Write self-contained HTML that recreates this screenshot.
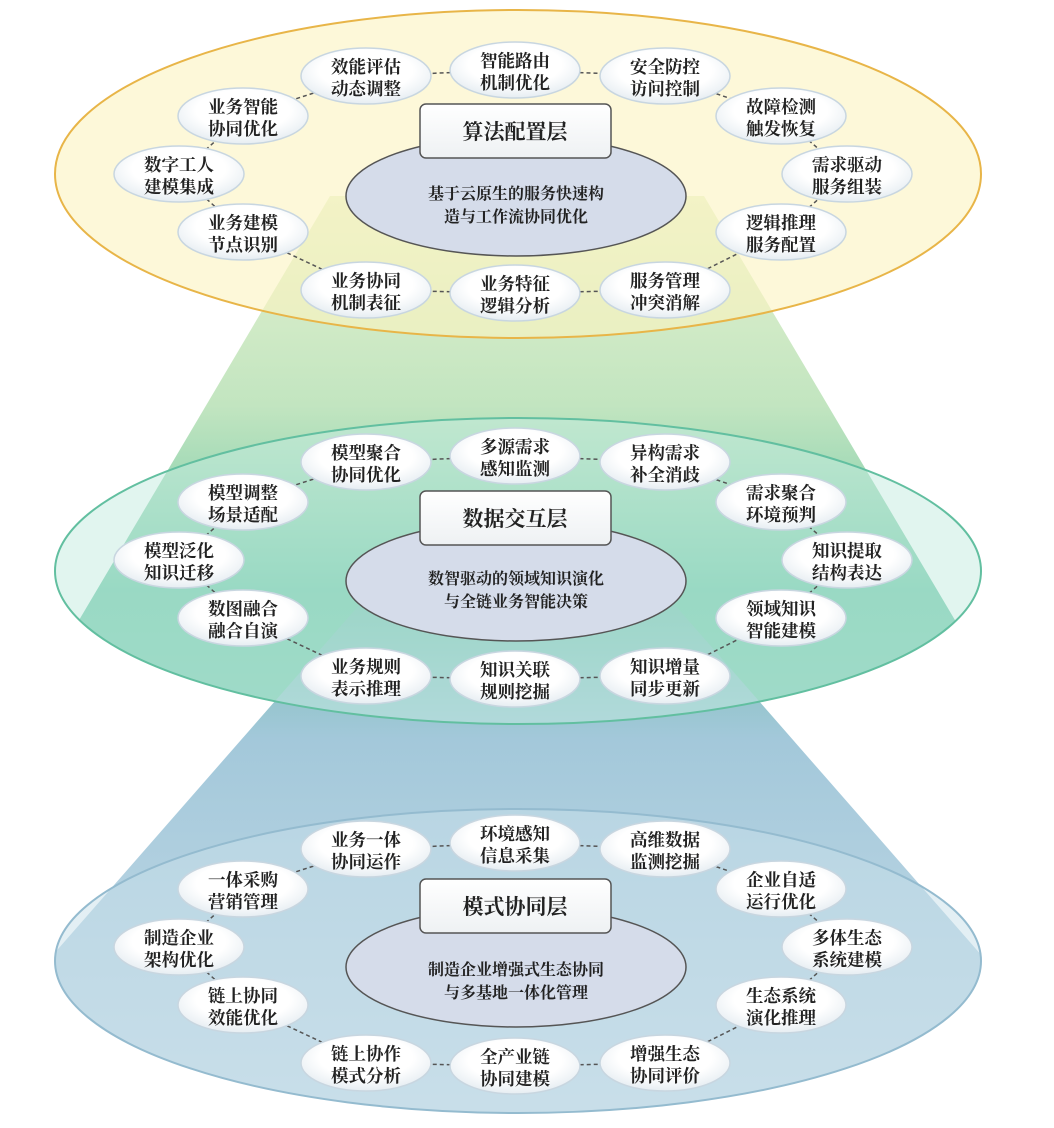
<!DOCTYPE html>
<html><head><meta charset="utf-8"><style>
html,body{margin:0;padding:0;background:#fff;}
svg{display:block;}
text{font-family:"Liberation Serif","Noto Serif CJK SC",serif;font-weight:700;fill:#222;}
.n text{font-size:17.5px;}
</style></head><body>
<svg width="1054" height="1128" viewBox="0 0 1054 1128" xmlns="http://www.w3.org/2000/svg">
<defs>
<linearGradient id="c1" gradientUnits="userSpaceOnUse" x1="0" y1="196" x2="0" y2="720">
<stop offset="0" stop-color="#e6f2cf"/><stop offset="0.4" stop-color="#c2e5c0"/><stop offset="0.75" stop-color="#6fc7a8"/><stop offset="1" stop-color="#7cc9b2"/></linearGradient>
<linearGradient id="c2" gradientUnits="userSpaceOnUse" x1="0" y1="580" x2="0" y2="1110">
<stop offset="0" stop-color="#6ebfa8"/><stop offset="0.3" stop-color="#a3c8da"/><stop offset="1" stop-color="#c9dde9"/></linearGradient>
<radialGradient id="nd" cx="0.5" cy="0.4" r="0.6"><stop offset="0.6" stop-color="#fff"/><stop offset="1" stop-color="#e6edf2"/></radialGradient>
<linearGradient id="bx" x1="0" y1="0" x2="0" y2="1"><stop offset="0" stop-color="#fff"/><stop offset="1" stop-color="#eef1f3"/></linearGradient>
<clipPath id="k1"><rect x="0" y="0" width="1054" height="571"/><ellipse cx="518" cy="571" rx="463" ry="153"/></clipPath>
<clipPath id="k2"><rect x="60" y="580" width="916" height="381"/><ellipse cx="518" cy="961" rx="463" ry="152"/></clipPath>
<g id="ring" stroke="#555" stroke-width="1.5" stroke-dasharray="4,3" fill="none">
<polyline points="243,116 366,76 515,70 665,76 781,116 847,174 781,232 665,290 515,293 366,290 243,232 179,174 243,116"/>
</g>
</defs>
<!-- cones -->
<polygon points="330,196 704,196 1020,730 14,730" fill="url(#c1)" clip-path="url(#k1)"/>
<polygon points="381,580 653,580 1130,1125 -96,1125" fill="url(#c2)" clip-path="url(#k2)"/>
<!-- layer ellipses -->
<ellipse cx="518" cy="174" rx="463" ry="164" fill="#fcf3c0" fill-opacity="0.6" stroke="#e8b548" stroke-width="2"/>
<ellipse cx="518" cy="571" rx="463" ry="153" fill="#c3ebdf" fill-opacity="0.5" stroke="#62bfa0" stroke-width="2"/>
<ellipse cx="518" cy="961" rx="463" ry="152" fill="#c8e0ea" fill-opacity="0.5" stroke="#94bbcf" stroke-width="2"/>

<!-- LAYER 1 -->
<g>
<use href="#ring"/>
<ellipse cx="516" cy="196" rx="170" ry="60" fill="#d5dcea" stroke="#555" stroke-width="1.5"/>
<rect x="420" y="104" width="191" height="54" rx="6" fill="url(#bx)" stroke="#555" stroke-width="1.5"/>
<text x="515" y="139" font-size="21" text-anchor="middle">算法配置层</text>
<text x="516" y="199" font-size="16" text-anchor="middle">基于云原生的服务快速构</text>
<text x="516" y="222" font-size="16" text-anchor="middle">造与工作流协同优化</text>
<g class="n" text-anchor="middle">
<g fill="url(#nd)" stroke="#c8d6e0" stroke-width="1.5">
<ellipse cx="366" cy="76" rx="65" ry="28"/><ellipse cx="515" cy="70" rx="65" ry="28"/><ellipse cx="665" cy="76" rx="65" ry="28"/>
<ellipse cx="243" cy="116" rx="65" ry="28"/><ellipse cx="781" cy="116" rx="65" ry="28"/>
<ellipse cx="179" cy="174" rx="65" ry="28"/><ellipse cx="847" cy="174" rx="65" ry="28"/>
<ellipse cx="243" cy="232" rx="65" ry="28"/><ellipse cx="781" cy="232" rx="65" ry="28"/>
<ellipse cx="366" cy="290" rx="65" ry="28"/><ellipse cx="515" cy="293" rx="65" ry="28"/><ellipse cx="665" cy="290" rx="65" ry="28"/>
</g>
<text x="366" y="73">效能评估</text><text x="366" y="95">动态调整</text>
<text x="515" y="67">智能路由</text><text x="515" y="89">机制优化</text>
<text x="665" y="73">安全防控</text><text x="665" y="95">访问控制</text>
<text x="243" y="113">业务智能</text><text x="243" y="135">协同优化</text>
<text x="781" y="113">故障检测</text><text x="781" y="135">触发恢复</text>
<text x="179" y="171">数字工人</text><text x="179" y="193">建模集成</text>
<text x="847" y="171">需求驱动</text><text x="847" y="193">服务组装</text>
<text x="243" y="229">业务建模</text><text x="243" y="251">节点识别</text>
<text x="781" y="229">逻辑推理</text><text x="781" y="251">服务配置</text>
<text x="366" y="287">业务协同</text><text x="366" y="309">机制表征</text>
<text x="515" y="290">业务特征</text><text x="515" y="312">逻辑分析</text>
<text x="665" y="287">服务管理</text><text x="665" y="309">冲突消解</text>
</g>
</g>

<!-- LAYER 2 -->
<g transform="translate(0,386)">
<use href="#ring"/>
<ellipse cx="516" cy="195" rx="170" ry="60" fill="#d5dcea" stroke="#555" stroke-width="1.5"/>
<rect x="420" y="105" width="191" height="54" rx="6" fill="url(#bx)" stroke="#555" stroke-width="1.5"/>
<text x="515" y="140" font-size="21" text-anchor="middle">数据交互层</text>
<text x="516" y="198" font-size="16" text-anchor="middle">数智驱动的领域知识演化</text>
<text x="516" y="221" font-size="16" text-anchor="middle">与全链业务智能决策</text>
<g class="n" text-anchor="middle">
<g fill="url(#nd)" stroke="#c8d6e0" stroke-width="1.5">
<ellipse cx="366" cy="76" rx="65" ry="28"/><ellipse cx="515" cy="70" rx="65" ry="28"/><ellipse cx="665" cy="76" rx="65" ry="28"/>
<ellipse cx="243" cy="116" rx="65" ry="28"/><ellipse cx="781" cy="116" rx="65" ry="28"/>
<ellipse cx="179" cy="174" rx="65" ry="28"/><ellipse cx="847" cy="174" rx="65" ry="28"/>
<ellipse cx="243" cy="232" rx="65" ry="28"/><ellipse cx="781" cy="232" rx="65" ry="28"/>
<ellipse cx="366" cy="290" rx="65" ry="28"/><ellipse cx="515" cy="293" rx="65" ry="28"/><ellipse cx="665" cy="290" rx="65" ry="28"/>
</g>
<text x="366" y="73">模型聚合</text><text x="366" y="95">协同优化</text>
<text x="515" y="67">多源需求</text><text x="515" y="89">感知监测</text>
<text x="665" y="73">异构需求</text><text x="665" y="95">补全消歧</text>
<text x="243" y="113">模型调整</text><text x="243" y="135">场景适配</text>
<text x="781" y="113">需求聚合</text><text x="781" y="135">环境预判</text>
<text x="179" y="171">模型泛化</text><text x="179" y="193">知识迁移</text>
<text x="847" y="171">知识提取</text><text x="847" y="193">结构表达</text>
<text x="243" y="229">数图融合</text><text x="243" y="251">融合自演</text>
<text x="781" y="229">领域知识</text><text x="781" y="251">智能建模</text>
<text x="366" y="287">业务规则</text><text x="366" y="309">表示推理</text>
<text x="515" y="290">知识关联</text><text x="515" y="312">规则挖掘</text>
<text x="665" y="287">知识增量</text><text x="665" y="309">同步更新</text>
</g>
</g>

<!-- LAYER 3 -->
<g transform="translate(0,773)">
<use href="#ring"/>
<ellipse cx="516" cy="194" rx="170" ry="60" fill="#d5dcea" stroke="#555" stroke-width="1.5"/>
<rect x="420" y="106" width="191" height="54" rx="6" fill="url(#bx)" stroke="#555" stroke-width="1.5"/>
<text x="515" y="141" font-size="21" text-anchor="middle">模式协同层</text>
<text x="516" y="202" font-size="16" text-anchor="middle">制造企业增强式生态协同</text>
<text x="516" y="225" font-size="16" text-anchor="middle">与多基地一体化管理</text>
<g class="n" text-anchor="middle">
<g fill="url(#nd)" stroke="#c8d6e0" stroke-width="1.5">
<ellipse cx="366" cy="76" rx="65" ry="28"/><ellipse cx="515" cy="70" rx="65" ry="28"/><ellipse cx="665" cy="76" rx="65" ry="28"/>
<ellipse cx="243" cy="116" rx="65" ry="28"/><ellipse cx="781" cy="116" rx="65" ry="28"/>
<ellipse cx="179" cy="174" rx="65" ry="28"/><ellipse cx="847" cy="174" rx="65" ry="28"/>
<ellipse cx="243" cy="232" rx="65" ry="28"/><ellipse cx="781" cy="232" rx="65" ry="28"/>
<ellipse cx="366" cy="290" rx="65" ry="28"/><ellipse cx="515" cy="293" rx="65" ry="28"/><ellipse cx="665" cy="290" rx="65" ry="28"/>
</g>
<text x="366" y="73">业务一体</text><text x="366" y="95">协同运作</text>
<text x="515" y="67">环境感知</text><text x="515" y="89">信息采集</text>
<text x="665" y="73">高维数据</text><text x="665" y="95">监测挖掘</text>
<text x="243" y="113">一体采购</text><text x="243" y="135">营销管理</text>
<text x="781" y="113">企业自适</text><text x="781" y="135">运行优化</text>
<text x="179" y="171">制造企业</text><text x="179" y="193">架构优化</text>
<text x="847" y="171">多体生态</text><text x="847" y="193">系统建模</text>
<text x="243" y="229">链上协同</text><text x="243" y="251">效能优化</text>
<text x="781" y="229">生态系统</text><text x="781" y="251">演化推理</text>
<text x="366" y="287">链上协作</text><text x="366" y="309">模式分析</text>
<text x="515" y="290">全产业链</text><text x="515" y="312">协同建模</text>
<text x="665" y="287">增强生态</text><text x="665" y="309">协同评价</text>
</g>
</g>
</svg>
</body></html>
